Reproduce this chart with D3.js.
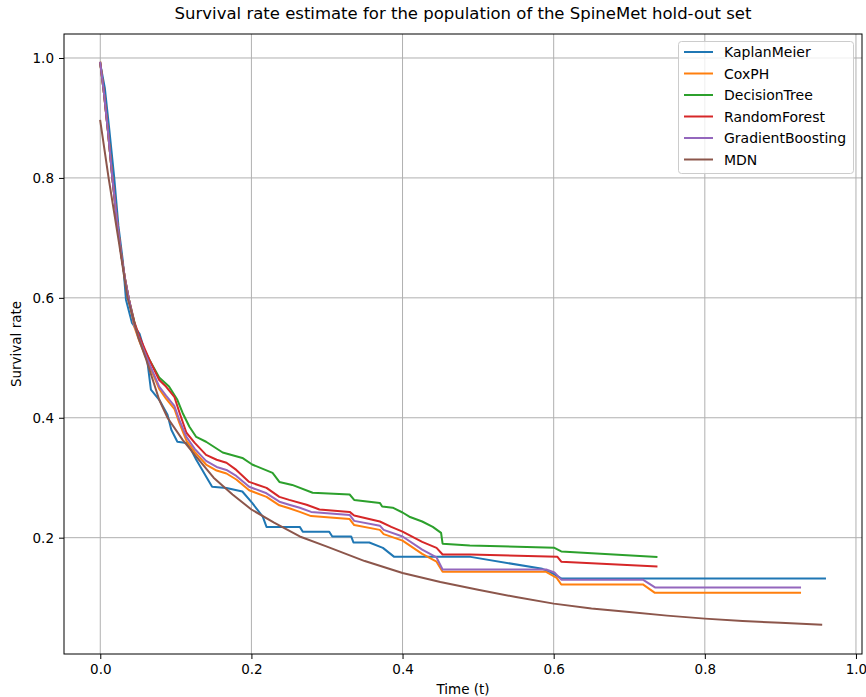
<!DOCTYPE html>
<html>
<head>
<meta charset="utf-8">
<script src="https://cdn.jsdelivr.net/npm/d3@7"></script>
<style>
  html, body { margin: 0; padding: 0; background: #fff; }
  svg { display: block; font-family: "DejaVu Sans", sans-serif; }
</style>
</head>
<body>
<svg id="chart" width="866" height="697"></svg>
<script>
// ---- Data ----
const seriesNames = ["KaplanMeier", "CoxPH", "DecisionTree", "RandomForest", "GradientBoosting", "MDN"];
const seriesColors = ["#1f77b4", "#ff7f0e", "#2ca02c", "#d62728", "#9467bd", "#8c564b"];

const kaplanMeier = [[0,0.99],[0.006,0.95],[0.012,0.88],[0.0185,0.80],[0.024,0.72],[0.03,0.66],[0.034,0.597],[0.042,0.558],[0.052,0.54],[0.062,0.497],[0.067,0.447],[0.078,0.43],[0.089,0.405],[0.094,0.38],[0.102,0.36],[0.114,0.358],[0.12,0.347],[0.127,0.33],[0.135,0.313],[0.14,0.302],[0.148,0.285],[0.167,0.283],[0.188,0.277],[0.201,0.258],[0.215,0.235],[0.22,0.218],[0.264,0.218],[0.268,0.21],[0.303,0.21],[0.307,0.202],[0.332,0.202],[0.335,0.192],[0.356,0.192],[0.374,0.183],[0.389,0.168],[0.49,0.168],[0.585,0.148],[0.595,0.143],[0.61,0.132],[0.959,0.132]];

const coxPH = [[0,0.992],[0.005,0.94],[0.01,0.88],[0.016,0.80],[0.022,0.73],[0.028,0.67],[0.033,0.63],[0.038,0.597],[0.045,0.552],[0.052,0.527],[0.065,0.487],[0.078,0.448],[0.087,0.432],[0.098,0.415],[0.105,0.39],[0.114,0.362],[0.125,0.343],[0.14,0.322],[0.154,0.312],[0.167,0.307],[0.18,0.297],[0.197,0.279],[0.22,0.268],[0.237,0.254],[0.25,0.249],[0.264,0.243],[0.279,0.236],[0.33,0.231],[0.336,0.221],[0.37,0.213],[0.375,0.206],[0.4,0.195],[0.426,0.173],[0.445,0.16],[0.453,0.143],[0.59,0.143],[0.604,0.133],[0.61,0.122],[0.718,0.122],[0.734,0.108],[0.926,0.108]];

const decisionTree = [[0,0.992],[0.005,0.94],[0.01,0.88],[0.016,0.80],[0.022,0.73],[0.028,0.67],[0.033,0.63],[0.038,0.597],[0.047,0.55],[0.056,0.518],[0.067,0.492],[0.078,0.467],[0.091,0.452],[0.102,0.43],[0.109,0.408],[0.118,0.385],[0.127,0.368],[0.14,0.36],[0.162,0.342],[0.188,0.333],[0.201,0.322],[0.228,0.308],[0.237,0.293],[0.254,0.288],[0.281,0.275],[0.33,0.272],[0.336,0.263],[0.37,0.258],[0.373,0.252],[0.387,0.25],[0.4,0.242],[0.409,0.235],[0.426,0.227],[0.44,0.218],[0.451,0.208],[0.453,0.19],[0.489,0.187],[0.601,0.183],[0.61,0.177],[0.736,0.168]];

const randomForest = [[0,0.992],[0.005,0.94],[0.01,0.88],[0.016,0.80],[0.022,0.73],[0.028,0.67],[0.033,0.63],[0.038,0.597],[0.045,0.56],[0.052,0.535],[0.065,0.497],[0.078,0.463],[0.087,0.452],[0.098,0.435],[0.105,0.408],[0.114,0.375],[0.125,0.358],[0.14,0.338],[0.154,0.33],[0.167,0.325],[0.18,0.313],[0.197,0.293],[0.22,0.283],[0.237,0.268],[0.25,0.263],[0.273,0.255],[0.29,0.247],[0.33,0.243],[0.336,0.237],[0.37,0.227],[0.385,0.218],[0.4,0.21],[0.426,0.193],[0.445,0.183],[0.453,0.172],[0.489,0.172],[0.605,0.168],[0.61,0.16],[0.736,0.152]];

const gradientBoosting = [[0,0.992],[0.005,0.94],[0.01,0.88],[0.016,0.80],[0.022,0.73],[0.028,0.67],[0.033,0.63],[0.038,0.597],[0.045,0.555],[0.052,0.53],[0.065,0.49],[0.078,0.452],[0.087,0.437],[0.098,0.42],[0.105,0.395],[0.114,0.368],[0.125,0.348],[0.14,0.328],[0.154,0.318],[0.167,0.313],[0.18,0.303],[0.197,0.285],[0.22,0.274],[0.237,0.26],[0.25,0.255],[0.264,0.25],[0.279,0.243],[0.33,0.238],[0.336,0.228],[0.37,0.22],[0.375,0.213],[0.4,0.202],[0.426,0.18],[0.445,0.167],[0.453,0.147],[0.59,0.147],[0.601,0.142],[0.61,0.13],[0.718,0.13],[0.734,0.117],[0.926,0.117]];

const mdn = [[0,0.895],[0.011,0.80],[0.025,0.69],[0.036,0.60],[0.05,0.535],[0.06,0.50],[0.078,0.43],[0.089,0.40],[0.109,0.363],[0.127,0.335],[0.15,0.30],[0.175,0.272],[0.2,0.247],[0.23,0.225],[0.264,0.202],[0.3,0.185],[0.35,0.161],[0.4,0.141],[0.45,0.126],[0.5,0.113],[0.55,0.101],[0.6,0.09],[0.65,0.082],[0.7,0.076],[0.75,0.07],[0.8,0.065],[0.85,0.061],[0.9,0.058],[0.954,0.055]];

const seriesData = [kaplanMeier, coxPH, decisionTree, randomForest, gradientBoosting, mdn];

const xTicks = [0.0, 0.2, 0.4, 0.6, 0.8, 1.0];
const yTicks = [0.2, 0.4, 0.6, 0.8, 1.0];
const titleText = "Survival rate estimate for the population of the SpineMet hold-out set";
const xLabelText = "Time (t)";
const yLabelText = "Survival rate";

// ---- Layout ----
const svg = d3.select("#chart");
const margin = {left: 64, right: 862, top: 34, bottom: 654};

const x = d3.scaleLinear().domain([-0.048, 1.008]).range([margin.left, margin.right]);
const y = d3.scaleLinear().domain([0.006, 1.04]).range([margin.bottom, margin.top]);

// grid
const grid = svg.append("g");
grid.selectAll("line.vx").data(xTicks).enter().append("line")
  .attr("x1", d => x(d)).attr("x2", d => x(d))
  .attr("y1", margin.top).attr("y2", margin.bottom)
  .attr("stroke", "#b0b0b0").attr("stroke-width", 1);
grid.selectAll("line.hy").data(yTicks).enter().append("line")
  .attr("y1", d => y(d)).attr("y2", d => y(d))
  .attr("x1", margin.left).attr("x2", margin.right)
  .attr("stroke", "#b0b0b0").attr("stroke-width", 1);

// lines
const line = d3.line().x(d => x(d[0])).y(d => y(d[1]));
const plot = svg.append("g");
seriesData.forEach((data, i) => {
  plot.append("path")
    .attr("d", line(data))
    .attr("fill", "none")
    .attr("stroke", seriesColors[i])
    .attr("stroke-width", 2)
    .attr("stroke-linejoin", "round")
    .attr("stroke-linecap", "square");
});

// axes
const xAxis = d3.axisBottom(x).tickValues(xTicks).tickFormat(d3.format(".1f")).tickSizeOuter(0).tickSize(5).tickPadding(5);
const yAxis = d3.axisLeft(y).tickValues(yTicks).tickFormat(d3.format(".1f")).tickSizeOuter(0).tickSize(5).tickPadding(5);
const gx = svg.append("g").attr("transform", `translate(0,${margin.bottom})`).call(xAxis);
const gy = svg.append("g").attr("transform", `translate(${margin.left},0)`).call(yAxis);
[gx, gy].forEach(g => {
  g.select(".domain").remove();
  g.selectAll("text").attr("font-size", 13.5).attr("font-family", "DejaVu Sans, sans-serif").attr("fill", "#000");
  g.selectAll("line").attr("stroke", "#000");
});

// frame
svg.append("rect")
  .attr("x", margin.left).attr("y", margin.top)
  .attr("width", margin.right - margin.left).attr("height", margin.bottom - margin.top)
  .attr("fill", "none").attr("stroke", "#000").attr("stroke-width", 1);

// title and labels
svg.append("text").attr("x", (margin.left + margin.right) / 2).attr("y", 19)
  .attr("text-anchor", "middle").attr("font-size", 16.5).text(titleText);
svg.append("text").attr("x", (margin.left + margin.right) / 2).attr("y", 694)
  .attr("text-anchor", "middle").attr("font-size", 13.5).text(xLabelText);
svg.append("text").attr("transform", `translate(21,${(margin.top + margin.bottom) / 2}) rotate(-90)`)
  .attr("text-anchor", "middle").attr("font-size", 13.5).text(yLabelText);

// legend
const lg = svg.append("g");
lg.append("rect").attr("x", 678.5).attr("y", 41.5).attr("width", 175).attr("height", 132)
  .attr("rx", 3).attr("fill", "#fff").attr("fill-opacity", 0.8).attr("stroke", "#cccccc");
seriesNames.forEach((name, i) => {
  const yy = 52 + i * 21.5;
  lg.append("line").attr("x1", 684).attr("x2", 713).attr("y1", yy).attr("y2", yy)
    .attr("stroke", seriesColors[i]).attr("stroke-width", 2);
  lg.append("text").attr("x", 724).attr("y", yy + 5).attr("font-size", 14).text(name);
});
</script>
</body>
</html>
